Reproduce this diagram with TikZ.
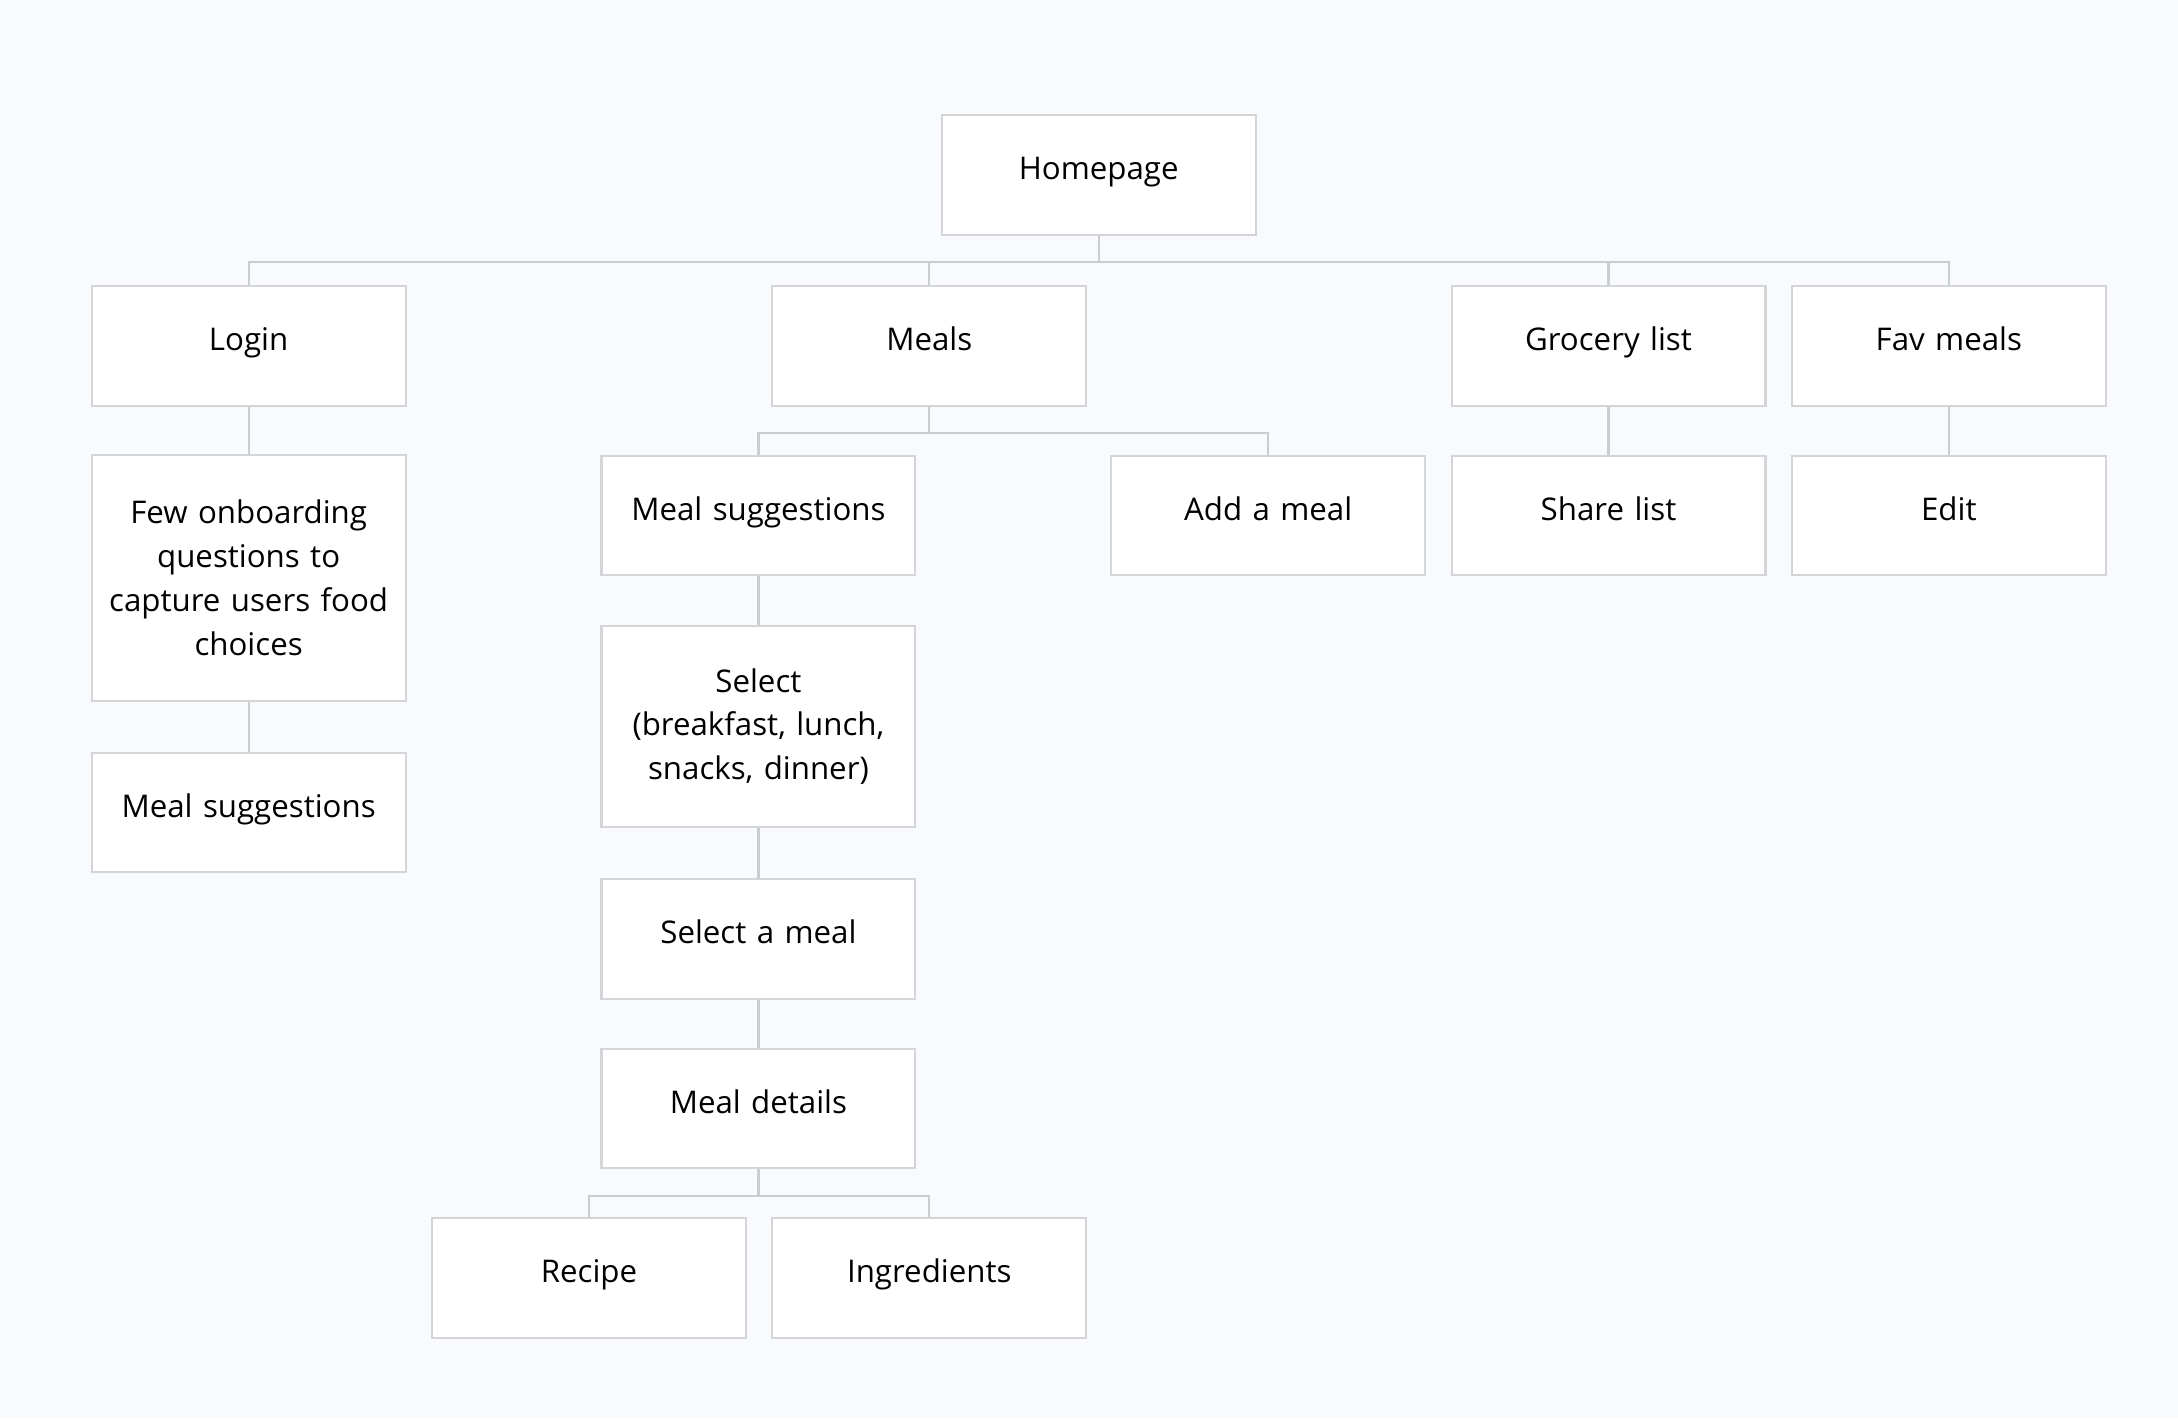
\documentclass[tikz,border=0pt]{standalone}
\usepackage{fontspec}
\setmainfont{Open Sans}
\definecolor{bg}{HTML}{F9FAFB}
\definecolor{edge}{HTML}{C9CDD2}
\definecolor{frame}{HTML}{D3D5D8}
\tikzset{
  page/.style={draw=frame, line width=1.5pt, fill=white, minimum width=226pt, minimum height=86pt,
    text width=218pt, align=center, font=\fontsize{22.5}{31.5}\selectfont, inner sep=0pt,
    text height=15pt, text depth=8pt},
  tallpage/.style={page, text height=, text depth=},
  link/.style={draw=edge, line width=1.6pt}
}
\begin{document}
\begin{tikzpicture}[x=1pt, y=-1pt]
		\fill[bg] (0,0) rectangle (1568,1021);
		\useasboundingbox (0,0) rectangle (1568,1021);
		% top level
		\node[page] (home) at (791,126) {Homepage};
		\node[page] (login) at (179,249) {Login};
		\node[page] (meals) at (669,249) {Meals};
		\node[page] (grocery) at (1158,249) {Grocery list};
		\node[page] (fav) at (1403,249) {Fav meals};
		% second level
		\node[tallpage, minimum height=177pt] (onboard) at (179,416) {Few onboarding\\questions to\\capture users food\\choices};
		\node[page] (loginsugg) at (179,585) {Meal suggestions};
		\node[page] (sugg) at (546,371) {Meal suggestions};
		\node[page] (add) at (913,371) {Add a meal};
		\node[page] (share) at (1158,371) {Share list};
		\node[page] (edit) at (1403,371) {Edit};
		% meal flow
		\node[tallpage, minimum height=145pt] (select) at (546,523) {Select\\(breakfast, lunch,\\snacks, dinner)};
		\node[page] (pick) at (546,676) {Select a meal};
		\node[page] (details) at (546,798) {Meal details};
		\node[page] (recipe) at (424,920) {Recipe};
		\node[page] (ingred) at (669,920) {Ingredients};
		% connectors
		\foreach \c in {login, meals, grocery, fav}
			\draw[link] (home.south) -- ++(0,19) -| (\c.north);
		\foreach \c in {sugg, add}
			\draw[link] (meals.south) -- ++(0,19) -| (\c.north);
		\foreach \c in {recipe, ingred}
			\draw[link] (details.south) -- ++(0,19) -| (\c.north);
		\draw[link] (login) -- (onboard);
		\draw[link] (onboard) -- (loginsugg);
		\draw[link] (grocery) -- (share);
		\draw[link] (fav) -- (edit);
		\draw[link] (sugg) -- (select);
		\draw[link] (select) -- (pick);
		\draw[link] (pick) -- (details);
	\end{tikzpicture}
\end{document}
